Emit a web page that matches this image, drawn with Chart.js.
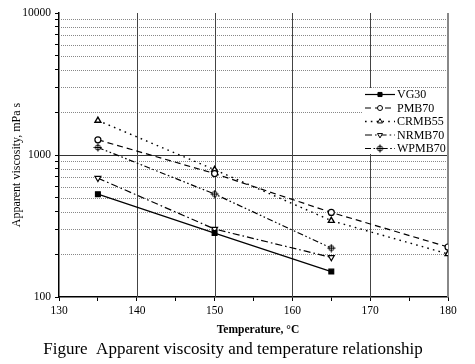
<!DOCTYPE html>
<html>
<head>
<meta charset="utf-8">
<script src="https://cdn.jsdelivr.net/npm/chart.js@4"></script>
<style>
  body { margin: 0; background: #fff; }
  #wrap { width: 475px; height: 364px; }
</style>
</head>
<body>
<div id="wrap"><canvas id="viscChart" width="475" height="364"></canvas></div>
<script>
// ---- DATA ----
const temps = [135, 150, 165, 180];
const vg30 = [530, 282, 151, null];
const pmb70 = [1280, 740, 394, 225];
const crmb55 = [1750, 788, 345, 201];
const nrmb70 = [687, 301, 190, null];
const wpmb70 = [1130, 531, 221, null];
const seriesNames = ["VG30", "PMB70", "CRMB55", "NRMB70", "WPMB70"];

// ---- TICKS ----
const xTickValues = [130, 135, 140, 145, 150, 155, 160, 165, 170, 175, 180];
const xLabelValues = [130, 140, 150, 160, 170, 180];
const yTickValues = [100, 200, 300, 400, 500, 600, 700, 800, 900,
  1000, 2000, 3000, 4000, 5000, 6000, 7000, 8000, 9000, 10000];
const yLabelValues = [100, 1000, 10000];
const vGridValues = [140, 150, 160, 170];

const xTitle = "Temperature, \u00B0C";
const yTitle = "Apparent viscosity, mPa s";
const caption = "Figure  Apparent viscosity and temperature relationship";

const serif = "'Liberation Serif', 'Times New Roman', serif";

function toPoints(values) {
  return temps.map((t, i) => ({ x: t, y: values[i] })).filter((p) => p.y !== null);
}

// small circle with a plus, used for WPMB70
const crossCircle = document.createElement("canvas");
crossCircle.width = 9;
crossCircle.height = 9;
(() => {
  const c = crossCircle.getContext("2d");
  c.strokeStyle = "#000";
  c.fillStyle = "#fff";
  c.lineWidth = 1;
  c.beginPath();
  c.arc(4.5, 4.5, 2.6, 0, Math.PI * 2);
  c.fill();
  c.stroke();
  c.beginPath();
  c.moveTo(0.5, 4.5); c.lineTo(8.5, 4.5);
  c.moveTo(4.5, 0.5); c.lineTo(4.5, 8.5);
  c.stroke();
})();

// grid drawn under the lines
const gridPlugin = {
  id: "customGrid",
  beforeDatasetsDraw(chart) {
    const { ctx, chartArea, scales } = chart;
    ctx.save();
    yTickValues.forEach((v) => {
      if (v === 100 || v === 10000) return;
      const y = Math.round(scales.y.getPixelForValue(v)) + 0.5;
      ctx.beginPath();
      if (v === 1000) {
        ctx.setLineDash([]);
        ctx.strokeStyle = "#333";
        ctx.lineWidth = 1.2;
      } else {
        ctx.setLineDash([1, 1]);
        ctx.strokeStyle = "#888";
        ctx.lineWidth = 1;
      }
      ctx.moveTo(chartArea.left, y);
      ctx.lineTo(chartArea.right, y);
      ctx.stroke();
    });
    ctx.setLineDash([]);
    vGridValues.forEach((v) => {
      const x = Math.round(scales.x.getPixelForValue(v)) + 0.5;
      ctx.beginPath();
      ctx.strokeStyle = "#444";
      ctx.lineWidth = 1;
      ctx.moveTo(x, chartArea.top);
      ctx.lineTo(x, chartArea.bottom);
      ctx.stroke();
    });
    // right frame line at 180
    const xr = scales.x.getPixelForValue(180);
    ctx.beginPath();
    ctx.strokeStyle = "#888";
    ctx.lineWidth = 2;
    ctx.moveTo(xr, chartArea.top);
    ctx.lineTo(xr, chartArea.bottom);
    ctx.stroke();
    ctx.restore();
  },
};

// legend, axis titles and caption
const textPlugin = {
  id: "customText",
  afterDraw(chart) {
    const { ctx } = chart;
    ctx.save();

    // legend box
    ctx.fillStyle = "#fff";
    ctx.fillRect(362, 88, 84, 66);
    chart.data.datasets.forEach((ds, i) => {
      const y = 94.5 + i * 13.5;
      ctx.strokeStyle = "#000";
      ctx.lineWidth = ds.borderWidth;
      ctx.setLineDash(ds.borderDash || []);
      ctx.beginPath();
      ctx.moveTo(365, y);
      ctx.lineTo(395, y);
      ctx.stroke();
      ctx.setLineDash([]);
      ctx.fillStyle = ds.pointBackgroundColor;
      ctx.lineWidth = 1;
      Chart.helpers.drawPoint(ctx, {
        pointStyle: ds.pointStyle,
        radius: ds.pointRadius - 0.5,
        rotation: ds.pointRotation || 0,
        borderWidth: 1,
      }, 380, y);
      ctx.fillStyle = "#000";
      ctx.font = "12px " + serif;
      ctx.textAlign = "left";
      ctx.textBaseline = "middle";
      ctx.fillText(ds.label, 397, y + 0.5);
    });

    // x title
    ctx.fillStyle = "#000";
    ctx.font = "bold 11.5px " + serif;
    ctx.textAlign = "center";
    ctx.textBaseline = "middle";
    ctx.fillText(xTitle, 258, 330);

    // y title
    ctx.save();
    ctx.translate(17, 165);
    ctx.rotate(-Math.PI / 2);
    ctx.font = "12px " + serif;
    ctx.fillText(yTitle, 0, 0);
    ctx.restore();

    // caption
    ctx.font = "17px " + serif;
    ctx.fillText(caption, 233, 350);
    ctx.restore();
  },
};

const ctx = document.getElementById("viscChart").getContext("2d");

new Chart(ctx, {
  type: "line",
  data: {
    datasets: [
      {
        label: seriesNames[0],
        data: toPoints(vg30),
        borderColor: "#000",
        borderWidth: 1.2,
        pointStyle: "rect",
        pointRadius: 3.4,
        pointBackgroundColor: "#000",
        pointBorderColor: "#000",
      },
      {
        label: seriesNames[1],
        data: toPoints(pmb70),
        borderColor: "#000",
        borderWidth: 1.2,
        borderDash: [6, 4],
        pointStyle: "circle",
        pointRadius: 3,
        pointBackgroundColor: "#fff",
        pointBorderColor: "#000",
      },
      {
        label: seriesNames[2],
        data: toPoints(crmb55),
        borderColor: "#000",
        borderWidth: 1.4,
        borderDash: [1.6, 4.2],
        pointStyle: "triangle",
        pointRadius: 3.4,
        pointBackgroundColor: "#fff",
        pointBorderColor: "#000",
      },
      {
        label: seriesNames[3],
        data: toPoints(nrmb70),
        borderColor: "#000",
        borderWidth: 1.2,
        borderDash: [7, 3, 1.6, 3],
        pointStyle: "triangle",
        pointRotation: 180,
        pointRadius: 3.4,
        pointBackgroundColor: "#fff",
        pointBorderColor: "#000",
      },
      {
        label: seriesNames[4],
        data: toPoints(wpmb70),
        borderColor: "#000",
        borderWidth: 1.2,
        borderDash: [6, 2.5, 1.6, 2.5, 1.6, 2.5],
        pointStyle: crossCircle,
        pointRadius: 3.5,
        pointBackgroundColor: "#fff",
        pointBorderColor: "#000",
      },
    ],
  },
  options: {
    responsive: false,
    animation: false,
    devicePixelRatio: 1,
    layout: { padding: { top: 13, right: 27, left: 0, bottom: 0 } },
    plugins: {
      legend: { display: false },
      tooltip: { enabled: false },
      title: { display: false },
    },
    elements: { line: { tension: 0 } },
    scales: {
      x: {
        type: "linear",
        min: 130,
        max: 180,
        afterBuildTicks: (scale) => {
          scale.ticks = xTickValues.map((v) => ({ value: v }));
        },
        afterFit: (scale) => {
          scale.height = 67;
        },
        ticks: {
          autoSkip: false,
          maxRotation: 0,
          padding: 3,
          color: "#000",
          font: { family: serif, size: 11.5 },
          callback: (v) => (xLabelValues.includes(v) ? String(v) : ""),
        },
        grid: {
          drawOnChartArea: false,
          tickLength: 4,
          tickColor: "#000",
          tickWidth: 1,
        },
        border: { color: "#000", width: 1.5 },
      },
      y: {
        type: "logarithmic",
        min: 100,
        max: 10000,
        afterBuildTicks: (scale) => {
          scale.ticks = yTickValues.map((v) => ({ value: v }));
        },
        afterFit: (scale) => {
          scale.width = 59;
        },
        ticks: {
          autoSkip: false,
          padding: 4,
          color: "#000",
          font: { family: serif, size: 11.5 },
          callback: (v) => (yLabelValues.includes(v) ? String(v) : ""),
        },
        grid: {
          drawOnChartArea: false,
          tickLength: 4,
          tickColor: "#000",
          tickWidth: 1,
        },
        border: { color: "#000", width: 1.5 },
      },
    },
  },
  plugins: [gridPlugin, textPlugin],
});
</script>
</body>
</html>
